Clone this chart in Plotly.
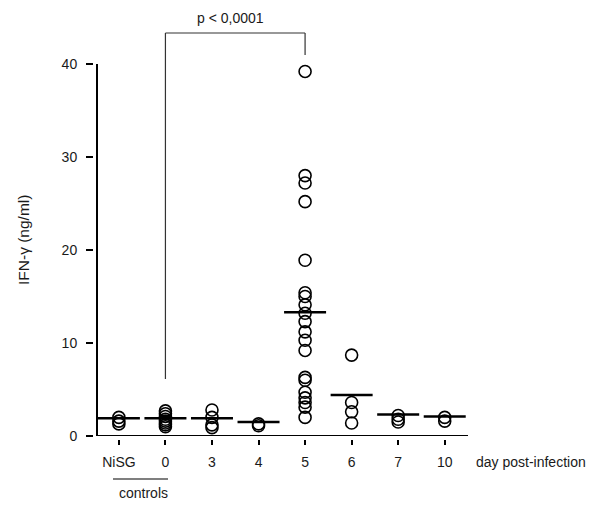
import pandas as pd
import plotly.graph_objects as go

# groups on the x axis
groups = ['NiSG', '0', '3', '4', '5', '6', '7', '10']

# IFN-gamma (ng/ml), one list per group
nisg = [2.0, 1.6, 1.3]
day0 = [2.7, 2.4, 2.1, 1.8, 1.6, 1.4, 1.2, 1.0]
day3 = [2.8, 2.0, 1.2, 0.9]
day4 = [1.3, 1.1]
day5 = [39.2, 28.0, 27.2, 25.2, 18.9, 15.4, 15.0, 14.1, 13.2, 12.3,
        11.2, 10.3, 9.2, 6.3, 6.0, 4.7, 4.1, 3.6, 3.1, 2.0]
day6 = [8.7, 3.6, 2.6, 1.4]
day7 = [2.2, 1.8, 1.5]
day10 = [2.0, 1.6]

# group means (horizontal bars)
means = [1.9, 1.9, 1.9, 1.5, 13.3, 4.4, 2.3, 2.1]

y_ticks = [0, 10, 20, 30, 40]

values = [nisg, day0, day3, day4, day5, day6, day7, day10]
df = pd.DataFrame([(g, v) for g, vals in zip(groups, values) for v in vals],
                  columns=['group', 'ifn'])

font = dict(family='Liberation Sans, Arial, sans-serif', size=14, color='#1a1a1a')

fig = go.Figure()
fig.add_trace(go.Scatter(x=df['group'], y=df['ifn'], mode='markers',
                         marker=dict(symbol='circle-open', size=12, color='black',
                                     line=dict(width=1.6, color='black')),
                         cliponaxis=False, showlegend=False))
fig.add_trace(go.Scatter(x=groups, y=means, mode='markers',
                         marker=dict(symbol='line-ew', size=30,
                                     line=dict(width=2.5, color='black')),
                         cliponaxis=False, showlegend=False))

# pixel layout: plot area x 97..468, y 64..436
ml, mr, mt, mb = 40, 132, 64, 50
W, H = 600, 516
pw, ph = W - ml - mr, H - mt - mb
def px(x):
    return (x - ml) / pw
def py(y):
    return (H - mb - y) / ph

fig.update_layout(
    width=W, height=H,
    margin=dict(l=ml, r=mr, t=mt, b=mb),
    paper_bgcolor='white', plot_bgcolor='white',
    font=font,
    xaxis=dict(type='category', categoryorder='array', categoryarray=groups,
               range=[-0.47, 7.5], domain=[px(97), 1],
               anchor='free', position=py(439),
               showline=False, showgrid=False, zeroline=False,
               ticks='outside', ticklen=5, tickwidth=2, tickcolor='black',
               ticklabelstandoff=5, tickfont=font),
    yaxis=dict(range=[0, 40], domain=[py(436), 1],
               anchor='free', position=px(93),
               showline=False, showgrid=False, zeroline=False,
               tickvals=y_ticks,
               ticks='outside', ticklen=7, tickwidth=2, tickcolor='black',
               ticklabelstandoff=6, tickfont=font),
)

line = dict(color='black', width=2)
# axis lines (drawn separately so ticks sit off the axis like the original)
fig.add_shape(type='line', xref='paper', yref='y', x0=px(97), x1=px(97), y0=0, y1=40, line=line)
fig.add_shape(type='line', xref='paper', yref='y', x0=px(97), x1=1, y0=0, y1=0, line=line)

# significance bracket between day 0 and day 5
br = dict(color='#333', width=1.2)
fig.add_shape(type='line', xref='x', yref='paper', x0=1, x1=1, y0=py(379), y1=py(33), line=br)
fig.add_shape(type='line', xref='x', yref='paper', x0=1, x1=4, y0=py(33), y1=py(33), line=br)
fig.add_shape(type='line', xref='x', yref='paper', x0=4, x1=4, y0=py(33), y1=py(55), line=br)

ann = dict(showarrow=False, font=font, xanchor='center', yanchor='middle')
fig.add_annotation(text='p < 0,0001', xref='x', yref='paper', x=2.4, y=py(18), **ann)

# controls bracket
fig.add_shape(type='line', xref='paper', yref='paper', x0=px(113), x1=px(168),
              y0=py(479), y1=py(479), line=dict(color='black', width=1.2))
fig.add_annotation(text='controls', xref='paper', yref='paper', x=px(143), y=py(493), **ann)

fig.add_annotation(text='day post-infection', xref='paper', yref='paper',
                   x=px(531), y=py(462), **ann)
fig.add_annotation(text='IFN-γ (ng/ml)', xref='paper', yref='paper',
                   x=px(23), y=py(240), textangle=-90,
                   showarrow=False, xanchor='center', yanchor='middle',
                   font=dict(font, size=15.5))

fig.write_html("out.html", config={'displayModeBar': False},
               post_script="document.body.style.margin='0';")
